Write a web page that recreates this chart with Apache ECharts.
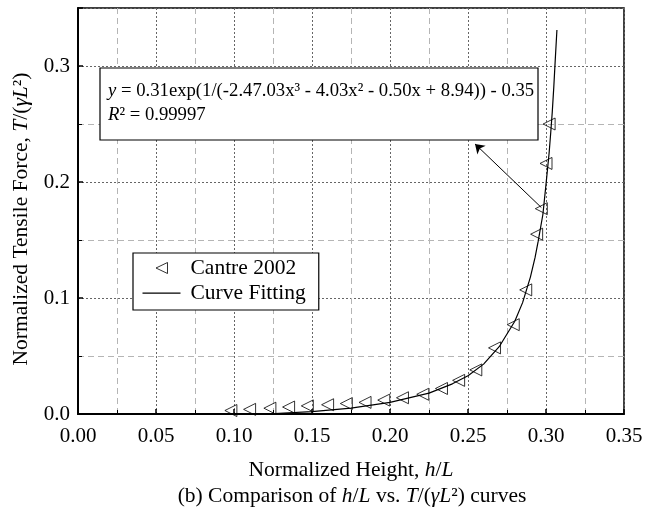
<html>
<head>
<meta charset="utf-8">
<script src="https://cdn.jsdelivr.net/npm/echarts@6/dist/echarts.min.js"></script>
<style>
  html, body { margin: 0; padding: 0; background: #fff; }
  #main { width: 654px; height: 512px; }
</style>
</head>
<body>
<div id="main"></div>
<script type="text/javascript">
// Cantre 2002 points (h/L, T/(yL^2))
var cantreX = [0.098, 0.110, 0.123, 0.135, 0.147, 0.160, 0.172, 0.184, 0.196, 0.208, 0.221,
               0.233, 0.244, 0.255, 0.267, 0.279, 0.287, 0.294, 0.297, 0.300, 0.302];
var cantreY = [0.003, 0.004, 0.005, 0.006, 0.007, 0.008, 0.009, 0.010, 0.012, 0.014, 0.017,
               0.022, 0.029, 0.038, 0.057, 0.077, 0.107, 0.155, 0.177, 0.216, 0.250];

// fitted curve
var fitX = [0.100, 0.120, 0.150, 0.175, 0.200, 0.225, 0.240, 0.250, 0.260, 0.270, 0.280, 0.285,
            0.290, 0.293, 0.295, 0.298, 0.300, 0.302, 0.303, 0.304, 0.305, 0.306, 0.307];
var fitY = [0.000, 0.000, 0.002, 0.005, 0.010, 0.018, 0.026, 0.033, 0.043, 0.058, 0.080, 0.096,
            0.118, 0.135, 0.149, 0.172, 0.198, 0.225, 0.242, 0.260, 0.282, 0.307, 0.331];

// arrow from the curve to the equation box
var arrowFrom = [0.297, 0.178];
var arrowTo = [0.2545, 0.2328];

var seriesNames = ['Cantre 2002', 'Curve Fitting'];
var eqText = '{i|y} = 0.31exp(1/(-2.47.03x³ - 4.03x² - 0.50x + 8.94)) - 0.35\n{i|R}² = 0.99997';

var FONT = 'Liberation Serif';
var FS = 21.5;
var italic = { fontStyle: 'italic', fontFamily: FONT, fontSize: FS, color: '#000' };

function pairs(xs, ys) {
    var out = [];
    for (var i = 0; i < xs.length; i++) out.push([xs[i], ys[i]]);
    return out;
}

var myChart = echarts.init(document.getElementById('main'));

var option = {
    animation: false,
    backgroundColor: '#fff',
    grid: {
        left: 78, right: 30, top: 8, bottom: 98,
        show: true, borderColor: '#000', borderWidth: 1.5
    },
    xAxis: {
        type: 'value',
        min: 0, max: 0.35, interval: 0.05,
        name: 'Normalized Height, {i|h}/{i|L}',
        nameLocation: 'middle',
        nameGap: 45,
        nameTextStyle: { fontFamily: FONT, fontSize: FS, color: '#000', rich: { i: italic } },
        axisLine: { lineStyle: { color: '#000', width: 2 } },
        axisTick: { inside: true, length: 5, lineStyle: { color: '#000', width: 1.5 } },
        minorTick: { show: true, splitNumber: 2, length: 4, lineStyle: { color: '#000', width: 1 } },
        axisLabel: {
            fontFamily: FONT, fontSize: 21, color: '#000', margin: 12,
            formatter: function (v) { return v.toFixed(2); }
        },
        splitLine: { show: true, lineStyle: { color: '#666', width: 1, type: [2, 2] } },
        minorSplitLine: { show: true, lineStyle: { color: '#b5b5b5', width: 1, type: [6, 4] } }
    },
    yAxis: {
        type: 'value',
        min: 0, max: 0.35, interval: 0.1,
        name: 'Normalized Tensile Force, {i|T}/({i|γL}²)',
        nameLocation: 'middle',
        nameGap: 46,
        nameTextStyle: {
            fontFamily: FONT, fontSize: FS, color: '#000', padding: [0, 16, 0, 0],
            rich: { i: italic }
        },
        axisLine: { show: true, lineStyle: { color: '#000', width: 2 } },
        axisTick: { show: true, inside: true, length: 5, lineStyle: { color: '#000', width: 1.5 } },
        minorTick: { show: true, splitNumber: 2, length: 4, lineStyle: { color: '#000', width: 1 } },
        axisLabel: {
            fontFamily: FONT, fontSize: 21, color: '#000', margin: 8, showMaxLabel: false,
            formatter: function (v) { return v.toFixed(1); }
        },
        splitLine: { show: true, lineStyle: { color: '#666', width: 1, type: [2, 2] } },
        minorSplitLine: { show: true, lineStyle: { color: '#b5b5b5', width: 1, type: [6, 4] } }
    },
    legend: {
        data: [
            {
                name: seriesNames[0],
                icon: 'path://M0,0 M38,13 M13.5,6.5 L25,1 L25,12 Z',
                itemStyle: { color: 'rgba(255,255,255,0)', borderColor: '#000', borderWidth: 1 }
            },
            {
                name: seriesNames[1],
                icon: 'path://M0,0 M38,13 M0,6 L38,6 L38,7.2 L0,7.2 Z',
                itemStyle: { color: '#000', borderWidth: 0 }
            }
        ],
        orient: 'vertical',
        left: 133, top: 253,
        padding: [4, 13, 6, 9],
        itemGap: 3,
        itemWidth: 38,
        itemHeight: 13,
        borderColor: '#000',
        borderWidth: 1.2,
        backgroundColor: '#fff',
        textStyle: { fontFamily: FONT, fontSize: 21.5, color: '#000', padding: [0, 0, 0, 5] }
    },
    graphic: [
        {
            type: 'rect', z: 100,
            shape: { x: 100, y: 68, width: 438, height: 72 },
            style: { fill: '#fff', stroke: '#000', lineWidth: 1.2 }
        },
        {
            type: 'text', z: 101, x: 108, y: 79,
            style: {
                text: eqText, fontFamily: FONT, fontSize: 18.7, lineHeight: 24, fill: '#000',
                rich: { i: { fontStyle: 'italic', fontFamily: FONT, fontSize: 18.7, lineHeight: 24 } }
            }
        },
        {
            type: 'text', x: 352, y: 496,
            style: {
                text: '(b) Comparison of {i|h}/{i|L} vs. {i|T}/({i|γL}²) curves',
                fontFamily: FONT, fontSize: FS, fill: '#000', align: 'center', verticalAlign: 'middle',
                rich: { i: { fontStyle: 'italic', fontFamily: FONT, fontSize: FS } }
            }
        }
    ],
    series: [
        {
            name: seriesNames[0],
            type: 'scatter',
            data: pairs(cantreX, cantreY),
            symbol: 'triangle',
            symbolRotate: 90,
            symbolSize: 12,
            itemStyle: { color: 'rgba(255,255,255,0)', borderColor: '#000', borderWidth: 1 },
            z: 3
        },
        {
            name: seriesNames[1],
            type: 'line',
            data: pairs(fitX, fitY),
            symbol: 'none',
            smooth: false,
            itemStyle: { color: '#000' },
            lineStyle: { color: '#000', width: 1.2 },
            z: 2,
            markLine: {
                silent: true,
                symbol: ['none', 'arrow'],
                symbolSize: 9,
                label: { show: false },
                lineStyle: { color: '#000', width: 1, type: 'solid' },
                data: [[{ coord: arrowFrom }, { coord: arrowTo }]]
            }
        }
    ]
};
myChart.setOption(option);
</script>
</body>
</html>
